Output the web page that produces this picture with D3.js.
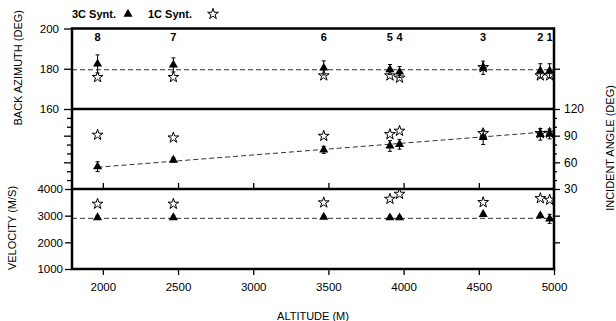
<!DOCTYPE html>
<html>
<head>
<meta charset="utf-8">
<script src="https://cdn.jsdelivr.net/npm/d3@7"></script>
<style>
  body { margin: 0; background: #fff; }
  svg { display: block; font-family: "Liberation Sans", Arial, sans-serif; }
</style>
</head>
<body>
<div id="chart"></div>
<script>
// station numbers and their altitudes (m)
const stations = ["8", "7", "6", "5", "4", "3", "2", "1"];
const altitude = [1965, 2469, 3469, 3909, 3973, 4529, 4909, 4971];

// back azimuth (deg)
const baz3c = [182.4, 181.9, 180.4, 179.6, 178.4, 180.5, 179.0, 179.0];
const baz3cErr = [4.5, 3.5, 3.5, 2.5, 2.7, 3.3, 3.5, 3.5];
const baz1c = [175.8, 175.8, 176.6, 176.6, 175.5, 180.7, 176.6, 176.6];
const bazRef = 179.5;

// incident angle (deg)
const inc3c = [55.1, 62.6, 73.9, 78.4, 80.3, 88.1, 91.5, 91.9];
const inc3cErr = [5.5, 2.5, 4.0, 6.0, 5.5, 8.0, 6.5, 5.5];
const inc1c = [90.8, 87.7, 89.6, 91.5, 95.3, 92.6, 92.6, 93.0];
const incFitAlt = [1965, 4990];
const incFit = [54.5, 94.8];

// velocity (m/s)
const vel3c = [2930, 2930, 2950, 2925, 2925, 3050, 3000, 2880];
const vel3cErr = [60, 60, 60, 60, 60, 60, 60, 170];
const vel1c = [3440, 3440, 3490, 3625, 3812, 3500, 3650, 3590];
const velRef = 2900;

const altTicks = [2000, 2500, 3000, 3500, 4000, 4500, 5000];
const bazTicks = [160, 180, 200];
const incTicks = [30, 60, 90, 120];
const incMinor = [40, 50, 70, 80, 100, 110];
const velTicks = [1000, 2000, 3000, 4000];

const width = 616, height = 321;
const plotL = 72, plotR = 554;
const plotT = 28.5, sep1 = 109, sep2 = 189, plotB = 269;

const svg = d3.select("#chart").append("svg")
    .attr("width", width)
    .attr("height", height);

const x = d3.scaleLinear().domain([1795, 5000]).range([plotL, plotR]);
const yBaz = d3.scaleLinear().domain([160, 200]).range([sep1, plotT]);
const yInc = d3.scaleLinear().domain([30, 120]).range([sep2, sep1]);
const yVel = d3.scaleLinear().domain([1000, 4000]).range([plotB, sep2]);

const fmt = d3.format("d");

const rows = stations.map((s, i) => ({
    st: s, alt: altitude[i],
    b3: baz3c[i], b3e: baz3cErr[i], b1: baz1c[i],
    i3: inc3c[i], i3e: inc3cErr[i], i1: inc1c[i],
    v3: vel3c[i], v3e: vel3cErr[i], v1: vel1c[i]
}));

function styleAxis(g, size) {
    g.select(".domain").remove();
    g.selectAll("line").attr("stroke", "#000").attr("stroke-width", 1.3);
    g.selectAll("text").style("font-size", size + "px").attr("fill", "#000");
}

// left axes
svg.append("g").attr("transform", `translate(${plotL},0)`)
    .call(d3.axisLeft(yBaz).tickValues(bazTicks).tickSize(8).tickPadding(5).tickFormat(fmt))
    .call(g => styleAxis(g, 11.5));
svg.append("g").attr("transform", `translate(${plotL},0)`)
    .call(d3.axisLeft(yInc).tickValues([60, 90]).tickSize(8).tickFormat(""))
    .call(g => styleAxis(g, 11));
svg.append("g").attr("transform", `translate(${plotL},0)`)
    .call(d3.axisLeft(yInc).tickValues(incMinor).tickSize(5).tickFormat(""))
    .call(g => styleAxis(g, 11));
svg.append("g").attr("transform", `translate(${plotL},0)`)
    .call(d3.axisLeft(yVel).tickValues(velTicks).tickSize(7).tickPadding(2).tickFormat(fmt))
    .call(g => styleAxis(g, 11.5));

// right axes
svg.append("g").attr("transform", `translate(${plotR},0)`)
    .call(d3.axisRight(yBaz).tickValues([180]).tickSize(6).tickFormat(""))
    .call(g => styleAxis(g, 11));
svg.append("g").attr("transform", `translate(${plotR},0)`)
    .call(d3.axisRight(yInc).tickValues(incTicks).tickSize(6).tickPadding(4).tickFormat(fmt))
    .call(g => styleAxis(g, 12));
svg.append("g").attr("transform", `translate(${plotR},0)`)
    .call(d3.axisRight(yInc).tickValues(incMinor).tickSize(3).tickFormat(""))
    .call(g => styleAxis(g, 11));
svg.append("g").attr("transform", `translate(${plotR},0)`)
    .call(d3.axisRight(yVel).tickValues([2000, 3000]).tickSize(6).tickFormat(""))
    .call(g => styleAxis(g, 11));

// altitude ticks: inside at bottom of middle panel, outside at the bottom
svg.append("g").attr("transform", `translate(0,${sep2})`)
    .call(d3.axisTop(x).tickValues(altTicks).tickSize(6).tickFormat(""))
    .call(g => styleAxis(g, 11));
svg.append("g").attr("transform", `translate(0,${plotB})`)
    .call(d3.axisBottom(x).tickValues(altTicks).tickSize(6).tickPadding(8).tickFormat(fmt))
    .call(g => styleAxis(g, 11.5));

// reference dashed lines
const dash = "5,3";
svg.append("line")
    .attr("x1", plotL).attr("x2", plotR)
    .attr("y1", yBaz(bazRef)).attr("y2", yBaz(bazRef))
    .attr("stroke", "#333").attr("stroke-dasharray", dash);
svg.append("line")
    .attr("x1", x(incFitAlt[0])).attr("x2", x(incFitAlt[1]))
    .attr("y1", yInc(incFit[0])).attr("y2", yInc(incFit[1]))
    .attr("stroke", "#333").attr("stroke-dasharray", dash);
svg.append("line")
    .attr("x1", plotL).attr("x2", plotR)
    .attr("y1", yVel(velRef)).attr("y2", yVel(velRef))
    .attr("stroke", "#333").attr("stroke-dasharray", dash);

const tri = d3.symbol(d3.symbolTriangle, 36);
const star = d3.symbol(d3.symbolStar, 36);

function drawPanel(y, key3, keyErr, key1) {
    const g = svg.append("g");
    const err = g.selectAll("g.err").data(rows).enter().append("g")
        .attr("stroke", "#000").attr("stroke-width", 1);
    err.append("line")
        .attr("x1", d => x(d.alt)).attr("x2", d => x(d.alt))
        .attr("y1", d => y(d[key3] + d[keyErr])).attr("y2", d => y(d[key3] - d[keyErr]));
    err.append("line")
        .attr("x1", d => x(d.alt) - 2).attr("x2", d => x(d.alt) + 2)
        .attr("y1", d => y(d[key3] + d[keyErr])).attr("y2", d => y(d[key3] + d[keyErr]));
    err.append("line")
        .attr("x1", d => x(d.alt) - 2).attr("x2", d => x(d.alt) + 2)
        .attr("y1", d => y(d[key3] - d[keyErr])).attr("y2", d => y(d[key3] - d[keyErr]));

    g.selectAll("path.tri").data(rows).enter().append("path")
        .attr("class", "tri")
        .attr("d", tri)
        .attr("transform", d => `translate(${x(d.alt)},${y(d[key3])})`)
        .attr("fill", "#000");
    g.selectAll("path.star").data(rows).enter().append("path")
        .attr("class", "star")
        .attr("d", star)
        .attr("transform", d => `translate(${x(d.alt)},${y(d[key1])})`)
        .attr("fill", "none")
        .attr("stroke", "#000")
        .attr("stroke-width", 1);
}

drawPanel(yBaz, "b3", "b3e", "b1");
drawPanel(yInc, "i3", "i3e", "i1");
drawPanel(yVel, "v3", "v3e", "v1");

// frame
svg.append("rect")
    .attr("x", plotL).attr("y", plotT)
    .attr("width", plotR - plotL).attr("height", plotB - plotT)
    .attr("fill", "none").attr("stroke", "#000").attr("stroke-width", 2.5);
[sep1, sep2].forEach(yy => {
    svg.append("line")
        .attr("x1", plotL).attr("x2", plotR)
        .attr("y1", yy).attr("y2", yy)
        .attr("stroke", "#000").attr("stroke-width", 2.5);
});

// station numbers
svg.append("g").selectAll("text").data(rows).enter().append("text")
    .attr("x", d => x(d.alt))
    .attr("y", 41)
    .attr("text-anchor", "middle")
    .style("font-size", "11px")
    .style("font-weight", "bold")
    .text(d => d.st);

// legend
svg.append("text").attr("x", 72).attr("y", 18)
    .style("font-size", "11px").style("font-weight", "bold").text("3C Synt.");
svg.append("path").attr("d", tri).attr("transform", "translate(128,14)").attr("fill", "#000");
svg.append("text").attr("x", 148).attr("y", 18)
    .style("font-size", "11px").style("font-weight", "bold").text("1C Synt.");
svg.append("path").attr("d", star).attr("transform", "translate(213,14)")
    .attr("fill", "none").attr("stroke", "#000");

// axis titles
svg.append("text")
    .attr("transform", `translate(22,${(plotT + sep1) / 2 - 1}) rotate(-90)`)
    .attr("text-anchor", "middle")
    .style("font-size", "11px")
    .text("BACK AZIMUTH (DEG)");
svg.append("text")
    .attr("transform", `translate(16,228) rotate(-90)`)
    .attr("text-anchor", "middle")
    .style("font-size", "11px")
    .text("VELOCITY (M/S)");
svg.append("text")
    .attr("transform", `translate(614,148) rotate(-90)`)
    .attr("text-anchor", "middle")
    .style("font-size", "11px")
    .text("INCIDENT ANGLE (DEG)");
svg.append("text")
    .attr("x", (plotL + plotR) / 2)
    .attr("y", 320)
    .attr("text-anchor", "middle")
    .style("font-size", "11px")
    .text("ALTITUDE (M)");
</script>
</body>
</html>
